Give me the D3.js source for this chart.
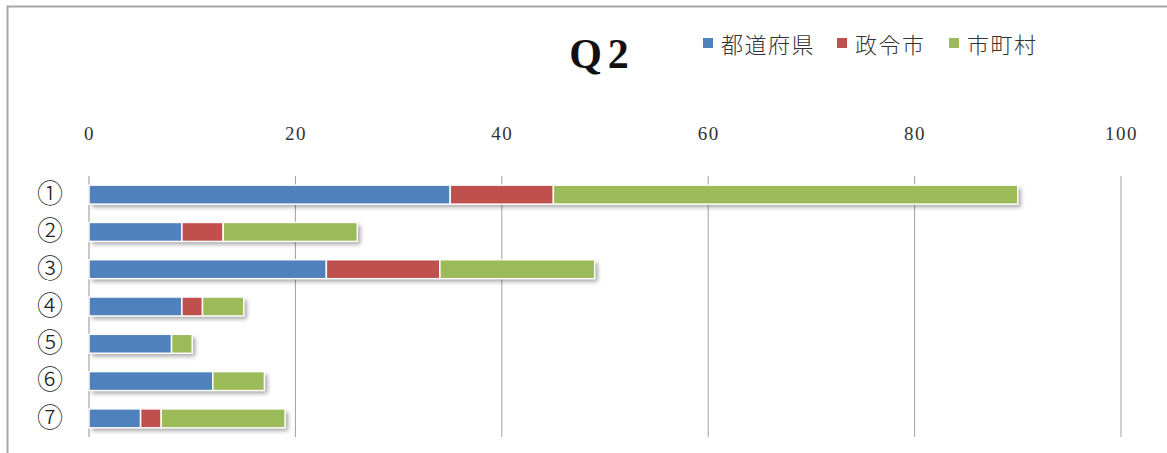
<!DOCTYPE html>
<html><head><meta charset="utf-8">
<script src="https://cdn.jsdelivr.net/npm/d3@7"></script>
<style>body{margin:0;background:#fff;}svg{display:block;}</style>
</head><body>
<svg id="c" width="1167" height="453"></svg>
<script>
const categories = ["①","②","③","④","⑤","⑥","⑦"];
const seriesNames = ["都道府県","政令市","市町村"];
const prefectures = [35, 9, 23, 9, 8, 12, 5];
const designatedCities = [10, 4, 11, 2, 0, 0, 2];
const municipalities = [45, 13, 15, 4, 2, 5, 12];
const tickValues = [0, 20, 40, 60, 80, 100];
const colors = ["#4F81BD", "#C0504D", "#9BBB59"];

const svg = d3.select("#c");
const defs = svg.append("defs");
const f = defs.append("filter").attr("id","sh").attr("x","-5%").attr("y","-30%").attr("width","115%").attr("height","180%");
f.append("feDropShadow").attr("dx",3).attr("dy",3).attr("stdDeviation",2).attr("flood-color","#000").attr("flood-opacity",0.35);

// frame
svg.append("rect").attr("x",7.5).attr("y",6.5).attr("width",1200).attr("height",500)
  .attr("fill","none").attr("stroke","#a6a6a6").attr("stroke-width",2);

const x = d3.scaleLinear().domain([0,100]).range([89,1121]);
const y = d3.scaleBand().domain(categories).range([176,437]).paddingInner(0.5).paddingOuter(0.25);

// grid
svg.append("g").selectAll("line").data(tickValues.slice(1)).join("line")
  .attr("x1",d=>x(d)).attr("x2",d=>x(d)).attr("y1",176).attr("y2",437)
  .attr("stroke",(d)=> d===100 ? "#d0d0d0" : "#a0a0a0").attr("stroke-width",d=> d===100?2:1);
svg.append("line").attr("x1",x(0)).attr("x2",x(0)).attr("y1",176).attr("y2",437)
  .attr("stroke","#c8c8c8").attr("stroke-width",2);

// top axis labels
const ax = d3.axisTop(x).tickValues(tickValues).tickSize(0).tickFormat(d3.format("d"));
const axg = svg.append("g").attr("transform","translate(0,143)").call(ax);
axg.select(".domain").remove();
axg.selectAll("text").attr("font-family","'Liberation Serif', serif").attr("font-size",19)
  .attr("letter-spacing",1.5).attr("fill","#333");

// category labels
const ay = d3.axisLeft(y).tickSize(0).tickPadding(0);
const ayg = svg.append("g").attr("transform","translate(63,0)").call(ay);
ayg.select(".domain").remove();
ayg.selectAll("text").attr("font-family","'Noto Sans CJK JP', 'DejaVu Sans', sans-serif").attr("font-size",26)
  .attr("font-weight",300).attr("fill","#222");

// stacked bars
const table = categories.map((c,i)=>({cat:c, s0:prefectures[i], s1:designatedCities[i], s2:municipalities[i]}));
const stack = d3.stack().keys(["s0","s1","s2"])(table);
const bh = 19;
const gBars = svg.append("g");
gBars.selectAll("rect.sh").data(table).join("rect").attr("class","sh")
  .attr("x",x(0)).attr("y",d=>y(d.cat)+y.bandwidth()/2-bh/2)
  .attr("width",d=>x(d.s0+d.s1+d.s2)-x(0)).attr("height",bh)
  .attr("fill","#fff").attr("filter","url(#sh)");
stack.forEach((layer,li)=>{
  gBars.append("g").selectAll("rect").data(layer.filter(d=>d[1]>d[0])).join("rect")
    .attr("x",d=>x(d[0])).attr("y",d=>y(d.data.cat)+y.bandwidth()/2-bh/2)
    .attr("width",d=>x(d[1])-x(d[0])).attr("height",bh)
    .attr("fill",colors[li]).attr("stroke","#fff").attr("stroke-width",1.5);
});

// title
svg.append("text").attr("x",602).attr("y",68).attr("text-anchor","middle")
  .attr("font-family","'Liberation Serif', serif").attr("font-weight","bold").attr("font-size",42)
  .attr("letter-spacing",6).attr("fill","#111").text("Q2");

// legend
const legX = [703, 837, 949];
const lg = svg.append("g");
seriesNames.forEach((n,i)=>{
  lg.append("rect").attr("x",legX[i]).attr("y",38).attr("width",10).attr("height",10).attr("fill",colors[i]);
  lg.append("text").attr("x",legX[i]+18).attr("y",53)
    .attr("font-family","'Noto Sans CJK JP', sans-serif").attr("font-size",22).attr("font-weight",300)
    .attr("fill","#333").attr("letter-spacing",1.5).text(n);
});
</script>
</body></html>
